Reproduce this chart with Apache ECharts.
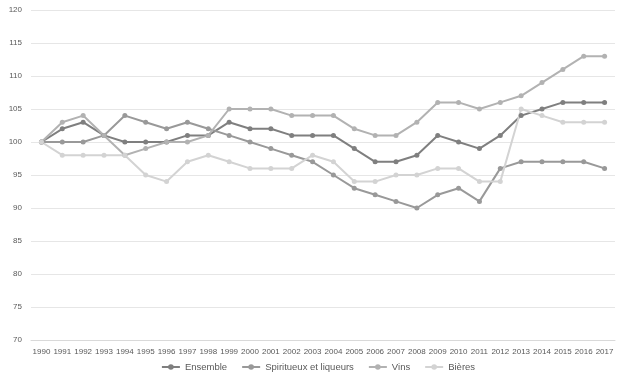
<!DOCTYPE html>
<html><head><meta charset="utf-8">
<script src="https://cdn.jsdelivr.net/npm/echarts@6/dist/echarts.min.js"></script>
<style>html,body{margin:0;padding:0;background:#fff}#c{width:636px;height:381px}</style>
</head><body><div id="c"></div>
<script>
const years = ["1990","1991","1992","1993","1994","1995","1996","1997","1998","1999","2000","2001","2002","2003","2004","2005","2006","2007","2008","2009","2010","2011","2012","2013","2014","2015","2016","2017"];
const ensemble = [100,102,103,101,100,100,100,101,101,103,102,102,101,101,101,99,97,97,98,101,100,99,101,104,105,106,106,106];
const spiritueux = [100,100,100,101,104,103,102,103,102,101,100,99,98,97,95,93,92,91,90,92,93,91,96,97,97,97,97,96];
const vins = [100,103,104,101,98,99,100,100,101,105,105,105,104,104,104,102,101,101,103,106,106,105,106,107,109,111,113,113];
const bieres = [100,98,98,98,98,95,94,97,98,97,96,96,96,98,97,94,94,95,95,96,96,94,94,105,104,103,103,103];
const names = ["Ensemble","Spiritueux et liqueurs","Vins","Bières"];
const colors = ["#7f7f7f","#999999","#b2b2b2","#d3d3d3"];
const datas = [ensemble, spiritueux, vins, bieres];

const chart = echarts.init(document.getElementById('c'), null, {renderer:'canvas'});
chart.setOption({
  animation:false,
  textStyle:{fontFamily:'Liberation Sans'},
  grid:{left:31,right:21,top:10,bottom:41,containLabel:false},
  legend:{bottom:4,left:'center',itemWidth:18,itemHeight:7,itemGap:14,
    textStyle:{color:'#595959',fontSize:9.5},
    data:names},
  xAxis:{type:'category',data:years,boundaryGap:true,
    axisLine:{show:true,lineStyle:{color:'#d9d9d9'}},axisTick:{show:false},
    axisLabel:{color:'#595959',fontSize:8,interval:0,margin:8}},
  yAxis:{type:'value',min:70,max:120,interval:5,
    axisLine:{show:false},axisTick:{show:false},
    splitLine:{lineStyle:{color:'#e6e6e6',width:1}},
    axisLabel:{color:'#595959',fontSize:8,margin:9}},
  series:datas.map((d,i)=>({name:names[i],type:'line',data:d,
    symbol:'circle',symbolSize:5,
    lineStyle:{color:colors[i],width:2},
    itemStyle:{color:colors[i]}}))
});
</script></body></html>
